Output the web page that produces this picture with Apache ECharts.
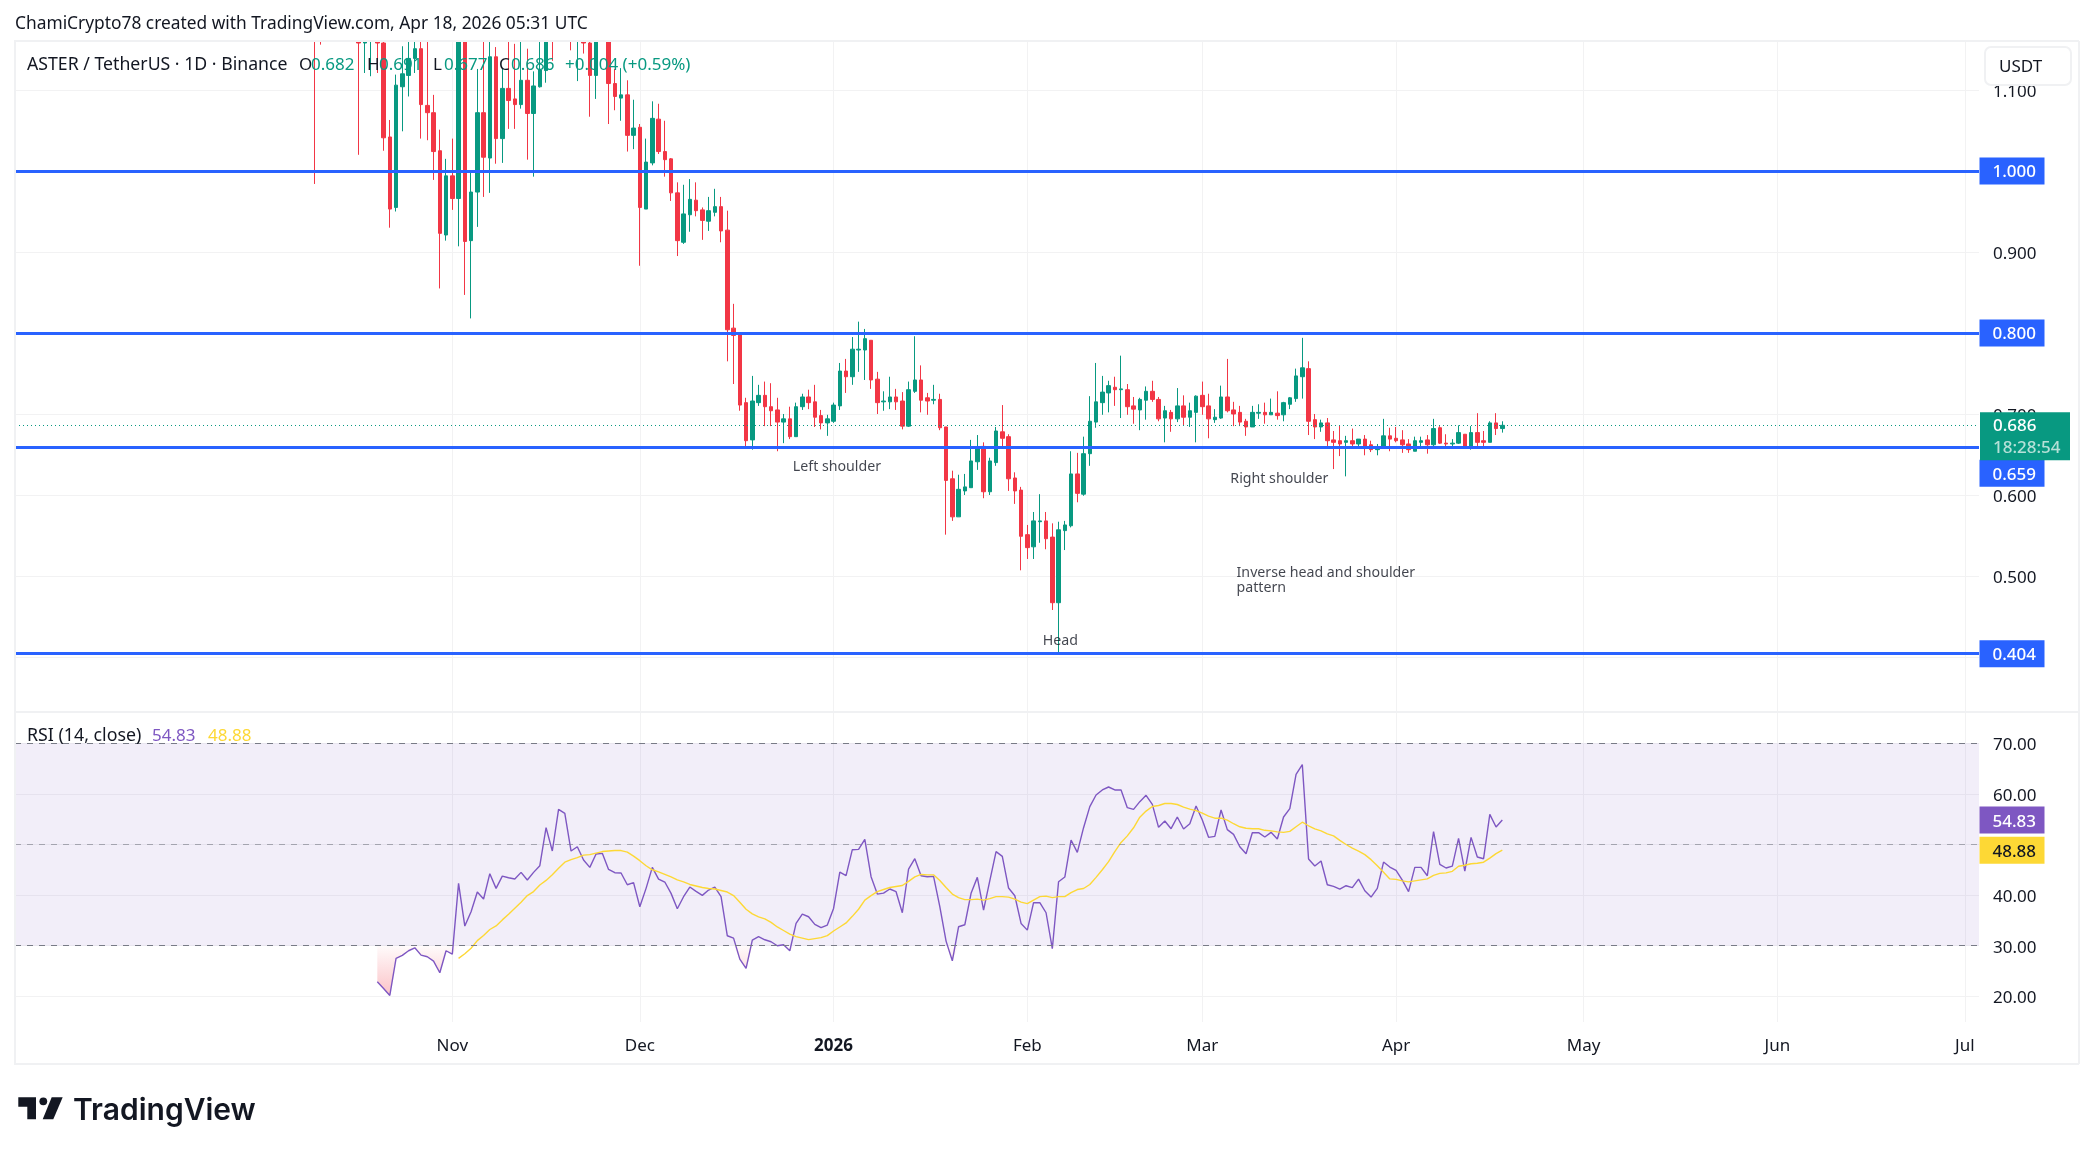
<!DOCTYPE html>
<html>
<head>
<meta charset="utf-8">
<title>ASTER / TetherUS</title>
<style>
  html, body { margin: 0; padding: 0; background: #fff; }
  #chart { width: 2093px; height: 1154px; }
</style>
<script src="https://cdn.jsdelivr.net/npm/echarts@6/dist/echarts.min.js"></script>
</head>
<body>
<div id="chart"></div>
<script>
// candles, first one is 2025-10-10, one per day
const firstCandle = '2025-10-10';
const opens = [
  1.32,1.36,1.30,1.36,1.30,1.34,1.27,1.20,1.158,1.19,
  1.21,1.158,1.042,.955,1.104,1.118,1.139,1.151,1.081,1.072,
  1.025,.921,.994,.966,1.19,.914,.974,1.072,1.016,1.141,
  1.040,1.102,1.089,1.082,1.112,1.071,1.104,1.124,1.24,1.20,
  1.26,1.22,1.19,1.20,1.158,1.118,1.24,1.19,1.108,1.090,
  1.094,1.044,1.054,.953,1.010,1.064,1.024,1.015,.973,.912,
  .946,.964,.952,.938,.949,.956,.927,.806,.799,.714,
  .668,.714,.723,.709,.705,.690,.694,.672,.709,.721,
  .715,.698,.689,.691,.710,.753,.746,.779,.779,.791,
  .743,.715,.715,.721,.716,.685,.728,.742,.720,.717,
  .718,.684,.620,.573,.605,.609,.641,.660,.604,.640,
  .678,.672,.621,.606,.551,.536,.567,.568,.548,.467,
  .556,.562,.626,.601,.651,.690,.714,.726,.733,.730,
  .730,.710,.705,.717,.728,.718,.695,.702,.694,.710,
  .696,.702,.723,.710,.693,.695,.721,.705,.702,.691,
  .684,.701,.702,.699,.701,.699,.712,.719,.746,.756,
  .693,.684,.689,.668,.667,.665,.667,.663,.669,.662,
  .656,.659,.673,.670,.668,.663,.654,.665,.668,.662,
  .683,.664,.663,.664,.675,.658,.677,.667,.665,.689,
  .682
];
const closes = [
  1.24,1.30,1.36,1.30,1.34,1.27,1.20,1.158,1.20,1.22,
  1.158,1.041,.953,1.106,1.120,1.139,1.151,1.082,1.072,1.024,
  .923,.994,.966,1.19,.913,.974,1.072,1.017,1.141,1.040,
  1.102,1.087,1.082,1.112,1.071,1.105,1.125,1.18,1.20,1.26,
  1.21,1.19,1.23,1.158,1.118,1.19,1.20,1.108,1.092,1.094,
  1.044,1.053,.955,1.011,1.065,1.024,1.014,.973,.914,.947,
  .965,.951,.939,.951,.956,.926,.804,.797,.711,.667,
  .716,.723,.709,.704,.690,.694,.672,.709,.721,.714,
  .696,.689,.694,.711,.753,.746,.780,.780,.793,.742,
  .714,.716,.721,.715,.685,.730,.742,.717,.716,.718,
  .683,.618,.573,.607,.610,.642,.659,.604,.642,.679,
  .670,.620,.605,.549,.535,.568,.568,.546,.467,.557,
  .563,.626,.602,.651,.691,.715,.727,.735,.730,.731,
  .709,.706,.718,.728,.718,.694,.704,.694,.710,.696,
  .704,.722,.709,.694,.696,.721,.704,.700,.690,.684,
  .702,.702,.699,.702,.698,.714,.720,.747,.757,.691,
  .684,.689,.667,.665,.663,.667,.663,.669,.660,.656,
  .659,.673,.669,.667,.662,.656,.667,.667,.662,.682,
  .664,.663,.664,.677,.659,.677,.665,.665,.689,.682,
  .686
];
const lows = [
  .984,1.156,1.22,1.24,1.25,1.22,1.17,1.020,1.121,1.117,
  1.121,1.025,.930,.950,1.049,1.092,1.121,1.040,1.038,.989,
  .855,.914,.952,.907,.847,.818,.931,.968,.973,1.009,
  1.010,1.052,1.052,1.077,1.014,.993,1.103,1.109,1.136,1.17,
  1.18,1.149,1.111,1.145,1.067,1.089,1.17,1.058,1.075,1.062,
  1.024,1.027,.883,.953,1.007,1.021,.993,.963,.895,.910,
  .925,.944,.915,.926,.944,.912,.765,.737,.704,.658,
  .656,.710,.685,.685,.654,.664,.669,.672,.705,.706,
  .684,.681,.673,.689,.705,.726,.736,.752,.742,.731,
  .700,.704,.706,.705,.681,.684,.726,.702,.699,.712,
  .680,.551,.568,.573,.600,.609,.631,.596,.600,.636,
  .660,.605,.589,.507,.521,.521,.541,.533,.458,.404,
  .532,.560,.591,.599,.636,.683,.699,.702,.710,.695,
  .699,.688,.680,.693,.715,.691,.665,.678,.690,.686,
  .684,.665,.699,.670,.689,.694,.702,.685,.685,.673,
  .684,.694,.688,.699,.693,.691,.706,.715,.719,.674,
  .669,.678,.657,.632,.648,.623,.657,.657,.649,.653,
  .649,.658,.654,.665,.652,.652,.654,.657,.651,.658,
  .663,.659,.658,.663,.657,.656,.660,.657,.665,.674,
  .677
];
const highs = [
  1.38,1.42,1.40,1.40,1.38,1.37,1.30,1.24,1.23,1.25,
  1.23,1.18,1.063,1.119,1.154,1.160,1.17,1.160,1.160,1.094,
  1.051,1.015,1.040,1.21,1.25,.998,1.126,1.165,1.17,1.153,
  1.126,1.160,1.157,1.17,1.151,1.123,1.165,1.20,1.26,1.29,
  1.28,1.24,1.25,1.22,1.18,1.21,1.27,1.21,1.126,1.127,
  1.112,1.088,1.058,1.040,1.086,1.083,1.062,1.016,.986,.983,
  .990,.986,.955,.968,.978,.968,.951,.836,.80,.720,
  .747,.736,.740,.738,.720,.700,.709,.714,.725,.730,
  .736,.705,.699,.714,.763,.768,.795,.814,.805,.791,
  .752,.728,.746,.731,.727,.740,.796,.760,.726,.736,
  .725,.684,.630,.625,.626,.668,.674,.665,.646,.684,
  .711,.675,.628,.610,.563,.579,.601,.579,.565,.567,
  .568,.654,.652,.672,.722,.763,.747,.741,.746,.772,
  .737,.721,.720,.734,.741,.721,.710,.705,.732,.723,
  .714,.723,.740,.725,.706,.735,.768,.715,.710,.694,
  .710,.712,.714,.719,.728,.715,.721,.756,.794,.765,
  .700,.693,.695,.679,.686,.673,.682,.669,.674,.667,
  .663,.694,.683,.684,.680,.669,.672,.672,.674,.694,
  .685,.675,.669,.686,.675,.685,.701,.679,.691,.701,
  .691
];

// RSI (14, close), daily from 2025-10-20
const rsiStart = '2025-10-20';
const rsiValues = [
  22.87,21.55,20.17,27.48,28.08,29.0,29.59,28.14,27.81,26.95,
  24.65,29.0,28.34,42.31,33.88,36.71,40.6,39.22,44.23,41.33,
  43.76,43.43,43.17,44.49,42.97,44.49,45.81,53.32,48.71,56.95,
  56.16,48.71,49.56,46.93,45.48,48.11,48.25,45.08,44.42,44.36,
  42.05,42.45,37.7,41.33,45.48,43.17,42.58,40.34,37.3,39.68,
  41.59,40.73,39.94,41.0,41.59,39.68,31.96,31.5,27.35,25.5,
  31.11,31.77,31.17,30.78,29.99,30.18,29.0,34.4,36.25,35.72,
  34.21,33.55,34.07,37.37,44.55,43.83,48.97,49.04,51.02,43.63,
  40.2,40.4,41.2,40.67,36.51,45.15,47.19,43.83,43.63,43.7,
  37.7,30.91,27.02,33.74,34.14,40.34,43.5,37.04,42.84,48.58,
  47.65,41.39,39.87,34.4,33.08,38.5,38.5,36.51,29.4,42.64,
  43.57,50.88,48.44,53.32,57.48,59.78,60.77,61.36,60.77,60.77,
  57.28,56.95,58.46,59.72,57.94,53.39,54.64,53.12,55.43,53.06,
  54.11,57.61,54.84,51.41,51.61,56.82,52.93,52.0,49.56,48.18,
  52.33,52.33,51.48,52.4,51.08,55.43,57.08,63.87,65.78,47.13,
  45.74,46.73,42.05,41.72,41.19,41.85,41.46,43.17,40.86,39.61,
  41.33,46.53,45.54,44.88,42.97,40.67,45.48,45.48,43.83,52.53,
  46.07,45.35,45.74,51.21,44.75,51.41,47.52,47.19,55.96,53.45,
  54.83
];
// RSI moving average, daily from 2025-11-02
const rsiMaStart = '2025-11-02';
const rsiMaValues = [
  27.5,28.4,29.5,31.0,32.0,33.2,33.9,35.1,36.2,37.4,
  38.6,39.9,40.7,42.0,42.9,44.0,45.3,46.5,47.0,47.4,
  47.9,48.0,48.3,48.6,48.7,48.8,48.8,48.5,47.7,46.8,
  45.8,45.0,44.6,44.1,43.6,43.0,42.6,42.1,41.8,41.5,
  41.3,41.2,40.9,40.6,39.9,38.6,37.2,36.3,35.7,35.3,
  34.6,33.7,33.0,32.3,31.8,31.5,31.2,31.4,31.6,32.0,
  32.9,33.7,34.5,35.8,37.2,39.0,39.9,40.7,41.1,41.5,
  41.7,41.9,42.7,43.6,44.1,44.0,44.0,42.9,41.5,40.2,
  39.5,39.1,39.1,39.2,39.0,39.3,39.7,39.7,39.6,39.2,
  38.6,38.3,39.0,39.7,39.8,39.5,39.7,39.7,40.5,41.1,
  41.3,42.1,43.5,45.0,46.6,48.6,50.4,51.7,53.3,55.4,
  56.6,57.5,57.7,58.1,58.1,57.9,57.4,57.0,56.7,56.2,
  55.6,55.2,55.2,54.8,54.1,53.5,53.2,53.1,53.1,52.8,
  52.7,52.5,52.4,52.6,53.5,54.4,53.7,53.1,52.7,52.1,
  51.7,50.8,50.0,49.3,48.7,48.0,47.0,45.8,44.5,43.2,
  43.1,42.8,42.6,42.8,43.0,43.2,43.9,44.3,44.4,44.7,
  45.7,45.9,46.2,46.3,46.5,47.3,48.2,48.88
];

const monthTicks = ['2025-11-01','2025-12-01','2026-01-01','2026-02-01','2026-03-01','2026-04-01','2026-05-01','2026-06-01','2026-07-01'];
const monthLabels = ['Nov','Dec','{year|2026}','Feb','Mar','Apr','May','Jun','Jul'];
const priceTicks = [0.4,0.5,0.6,0.7,0.8,0.9,1.0,1.1];
const rsiTicks = [20,30,40,50,60,70];
const levelPrices = [1.0,0.8,0.659,0.404];
const lastPrice = 0.686;
const countdown = '18:28:54';
const rsiBounds = [70,50,30];
const notePoints = [
  ['2025-12-25',0.634,'Left shoulder'],
  ['2026-03-05',0.620,'Right shoulder'],
  ['2026-02-03',0.420,'Head'],
  ['2026-03-06',0.494,'Inverse head and shoulder\npattern']
];

const FONT = '"Noto Sans", sans-serif';
const GREEN = '#089981', RED = '#f23645', BLUE = '#2962ff', PURPLE = '#7e57c2', YELLOW = '#fdd835';
const INK = '#131722', GRID = '#f2f2f3', FRAME = '#f0f1f3';
const DAY = 864e5;
const ts = s => new Date(s + 'T00:00:00Z').getTime();
const nov1 = ts('2025-11-01');

// 6.25px per day, so Nov 1 lands where the reference has it
const xMin = nov1 - 69.97 * DAY;
const xMax = nov1 + 244.27 * DAY;
const monthValues = monthTicks.map(ts);

const candleData = opens.map((o, i) => [ts(firstCandle) + i * DAY, o, closes[i], lows[i], highs[i]]);
const rsiData = rsiValues.map((v, i) => [ts(rsiStart) + i * DAY, v]);
const rsiMaData = rsiMaValues.map((v, i) => [ts(rsiMaStart) + i * DAY, v]);
const oversoldData = rsiValues.map((v, i) => [ts(rsiStart) + i * DAY, Math.min(v, 30)]);

function priceTag(value, text, bg, color, shift) {
  return {
    coord: [xMax, value],
    symbol: 'rect',
    symbolSize: [65, 27],
    symbolOffset: [33, shift || 0],
    itemStyle: { color: bg },
    label: {
      show: true, formatter: text, color: color, fontFamily: FONT, fontSize: 17, fontWeight: 500,
      position: ['20%', '56%'], align: 'left', verticalAlign: 'middle'
    }
  };
}

const levelTags = levelPrices.map(p =>
  priceTag(p, p.toFixed(3), BLUE, '#fff', p === 0.659 ? 26 : 0));

const lastTag = {
  coord: [xMax, lastPrice],
  symbol: 'rect',
  symbolSize: [90, 48],
  symbolOffset: [46, 11],
  itemStyle: { color: GREEN },
  label: {
    show: true, position: ['14.4%', '52%'], align: 'left', verticalAlign: 'middle',
    formatter: '{a|' + lastPrice.toFixed(3) + '}\n{b|' + countdown + '}',
    rich: {
      a: { color: '#fff', fontFamily: FONT, fontSize: 17, fontWeight: 500, lineHeight: 22 },
      b: { color: '#b5e0d7', fontFamily: FONT, fontSize: 17, fontWeight: 500, lineHeight: 22 }
    }
  }
};

// the rich padding nudges the digits down onto their gridline
function yLabels(digits) {
  return {
    margin: 14,
    formatter: v => '{t|' + Number(v).toFixed(digits) + '}',
    rich: { t: { color: INK, fontFamily: FONT, fontSize: 17, padding: [4, 0, 0, 0] } }
  };
}

const xBase = {
  type: 'value', min: xMin, max: xMax,
  axisLine: { show: false },
  axisTick: { show: false, customValues: monthValues },
  splitLine: { show: true, lineStyle: { color: GRID, width: 1 } }
};

const option = {
  animation: false,
  backgroundColor: '#fff',
  textStyle: { fontFamily: FONT },
  grid: [
    { left: 15, right: 114, top: 41, height: 670 },
    { left: 15, right: 114, top: 711, height: 311 }
  ],
  xAxis: [
    Object.assign({ gridIndex: 0, axisLabel: { show: false, customValues: monthValues } }, xBase),
    Object.assign({
      gridIndex: 1,
      axisLabel: {
        customValues: monthValues, color: INK, fontFamily: FONT, fontSize: 17, margin: 16,
        hideOverlap: false,
        formatter: v => monthLabels[monthValues.indexOf(v)],
        rich: { year: { fontWeight: 'bold', fontFamily: FONT, fontSize: 17, color: INK } }
      }
    }, xBase)
  ],
  yAxis: [
    {
      gridIndex: 0, type: 'value', position: 'right', min: 0.3333, max: 1.1605, scale: true,
      axisLine: { show: false },
      axisTick: { show: false, customValues: priceTicks },
      axisLabel: Object.assign({ customValues: priceTicks }, yLabels(3)),
      splitLine: { show: true, lineStyle: { color: GRID, width: 1 } }
    },
    {
      gridIndex: 1, type: 'value', position: 'right', min: 14.92, max: 76.38, scale: true,
      axisLine: { show: false },
      axisTick: { show: false, customValues: rsiTicks },
      axisLabel: Object.assign({ customValues: rsiTicks }, yLabels(2)),
      splitLine: { show: true, lineStyle: { color: GRID, width: 1 } }
    }
  ],
  series: [
    {
      name: 'ASTER', type: 'candlestick', xAxisIndex: 0, yAxisIndex: 0,
      data: candleData,
      encode: { x: 0, y: [1, 2, 3, 4] },
      barWidth: 4,
      clip: true,
      itemStyle: {
        color: GREEN, color0: RED, borderColor: GREEN, borderColor0: RED,
        borderColorDoji: GREEN, borderWidth: 1
      },
      markLine: {
        silent: true, symbol: 'none', animation: false, precision: 4, label: { show: false },
        data: levelPrices.map(p => ({ yAxis: p, lineStyle: { color: BLUE, width: 3, type: 'solid' } }))
          .concat([{ yAxis: lastPrice, lineStyle: { color: GREEN, width: 1, type: [1, 3] } }])
      },
      markPoint: { silent: true, animation: false, data: levelTags.concat([lastTag]) }
    },
    {
      name: 'notes', type: 'scatter', xAxisIndex: 0, yAxisIndex: 0,
      symbolSize: 0, silent: true,
      data: notePoints.map(n => ({
        value: [ts(n[0]), n[1]],
        label: {
          show: true, position: 'right', distance: 3, formatter: n[2], color: INK,
          fontFamily: FONT, fontSize: 14.2, lineHeight: 15, align: 'left'
        }
      }))
    },
    {
      name: 'oversold', type: 'line', xAxisIndex: 1, yAxisIndex: 1,
      data: oversoldData, showSymbol: false, silent: true, z: 1,
      lineStyle: { width: 0, opacity: 0 },
      areaStyle: {
        origin: 30, opacity: 1,
        color: {
          type: 'linear', x: 0, y: 0, x2: 0, y2: 1,
          colorStops: [
            { offset: 0, color: 'rgba(242,54,69,0.02)' },
            { offset: 1, color: 'rgba(242,54,69,0.3)' }
          ]
        }
      }
    },
    {
      name: 'RSI', type: 'line', xAxisIndex: 1, yAxisIndex: 1,
      data: rsiData, showSymbol: false, silent: true, z: 3,
      lineStyle: { color: PURPLE, width: 1.4 },
      markArea: {
        silent: true, animation: false,
        itemStyle: { color: 'rgba(126,87,194,0.1)' },
        data: [[{ yAxis: rsiBounds[0] }, { yAxis: rsiBounds[2] }]]
      },
      markLine: {
        silent: true, symbol: 'none', animation: false, precision: 4, label: { show: false },
        data: rsiBounds.map(v => ({
          yAxis: v,
          lineStyle: { color: v === 50 ? 'rgba(120,123,134,0.6)' : '#787b86', width: 1, type: [6, 6] }
        }))
      },
      markPoint: {
        silent: true, animation: false,
        data: [
          priceTag(rsiValues[rsiValues.length - 1], '54.83', PURPLE, '#fff'),
          priceTag(rsiMaValues[rsiMaValues.length - 1], '48.88', YELLOW, INK)
        ]
      }
    },
    {
      name: 'RSI MA', type: 'line', xAxisIndex: 1, yAxisIndex: 1,
      data: rsiMaData, showSymbol: false, silent: true, z: 4,
      lineStyle: { color: YELLOW, width: 1.4 }
    }
  ],
  graphic: { elements: chrome() }
};

// frame, legends and the logo: page furniture, not data
function chrome() {
  const text = (x, y, t, color, size) => ({
    type: 'text', x: x, y: y, z: 100, silent: true,
    style: { text: t, fill: color, font: (size || 17) + 'px ' + FONT, verticalAlign: 'middle' }
  });
  const line = (x1, y1, x2, y2, w) => ({
    type: 'line', z: 90, silent: true, shape: { x1, y1, x2, y2 }, style: { stroke: FRAME, lineWidth: w }
  });
  return [
    // candlestick clip only drops whole boxes, so cover what pokes out above the pane
    { type: 'rect', z: 80, silent: true, shape: { x: 0, y: 0, width: 2093, height: 40 }, style: { fill: '#fff' } },
    line(14, 41, 2079, 41, 2), line(14, 1064, 2079, 1064, 2), line(15, 41, 15, 1064, 2),
    line(2079, 41, 2079, 1064, 2), line(15, 712, 2079, 712, 2),
    text(15, 24, 'ChamiCrypto78 created with TradingView.com, Apr 18, 2026 05:31 UTC', INK, 17.35),
    text(27, 65, 'ASTER / TetherUS · 1D · Binance', INK, 17.7),
    text(299, 65, 'O', INK), text(311, 65, '0.682', GREEN),
    text(367, 65, 'H', INK), text(379, 65, '0.691', GREEN),
    text(433, 65, 'L', INK), text(444, 65, '0.677', GREEN),
    text(499, 65, 'C', INK), text(511, 65, '0.686', GREEN),
    text(565, 65, '+0.004 (+0.59%)', GREEN),
    text(27, 736, 'RSI (14, close)', INK, 17.8),
    text(152, 736, '54.83', PURPLE), text(208, 736, '48.88', YELLOW),
    {
      type: 'rect', z: 95, silent: true, shape: { x: 1985, y: 47, width: 86, height: 38, r: 6 },
      style: { fill: '#fff', stroke: FRAME, lineWidth: 2 }
    },
    text(1999, 67, 'USDT', INK),
    { type: 'polygon', z: 100, silent: true, shape: { points: [[18.3,1097.3],[36,1097.3],[36,1119.3],[27.3,1119.3],[27.3,1106.7],[18.3,1106.7]] }, style: { fill: INK } },
    { type: 'circle', z: 100, silent: true, shape: { cx: 43.3, cy: 1101.3, r: 3.9 }, style: { fill: INK } },
    { type: 'polygon', z: 100, silent: true, shape: { points: [[51.7,1097.3],[62.7,1097.3],[53.3,1119.3],[42.7,1119.3]] }, style: { fill: INK } },
    {
      type: 'text', x: 73, y: 1111, z: 100, silent: true,
      style: { text: 'TradingView', fill: INK, font: '600 30px Inter, sans-serif', verticalAlign: 'middle' }
    }
  ];
}

const chart = echarts.init(document.getElementById('chart'), null, { renderer: 'canvas' });
chart.setOption(option);
</script>
</body>
</html>
